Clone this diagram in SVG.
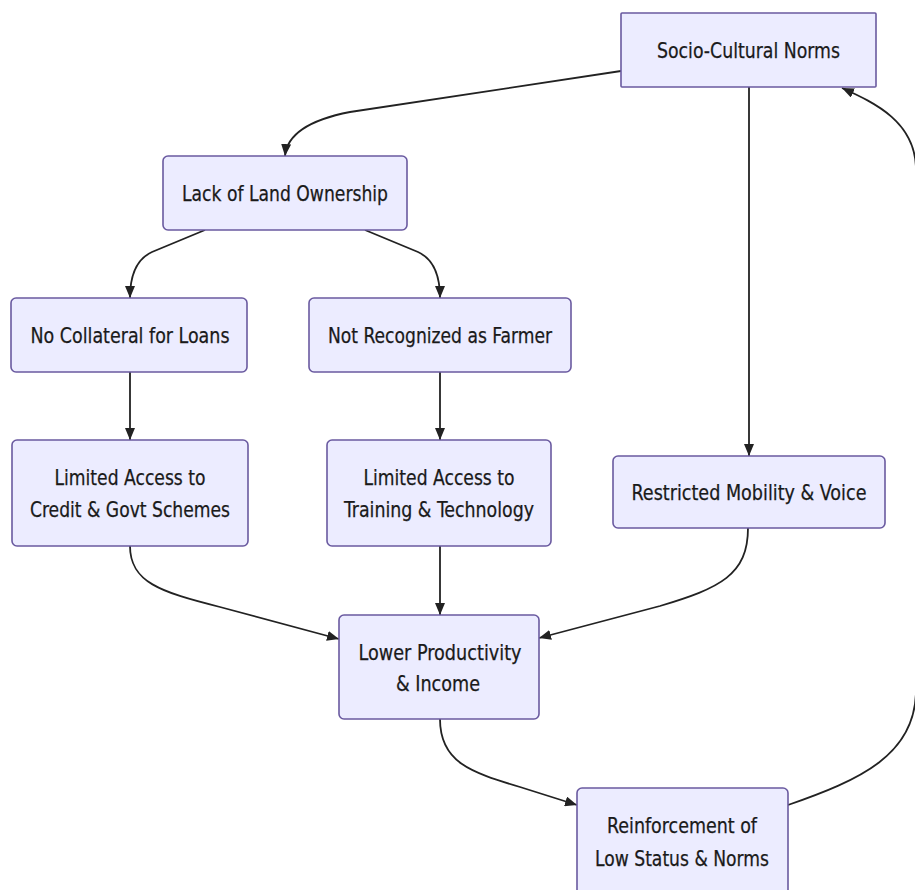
<svg xmlns="http://www.w3.org/2000/svg" width="915" height="890" viewBox="0 0 915 890">
<defs>
<style>
.node rect{fill:#ECECFF;stroke:#6a5aa0;stroke-width:1.6}
.node text{font-family:"Liberation Sans Narrow","DejaVu Sans Condensed","Liberation Sans",sans-serif;font-size:22px;fill:#1a1a1a;stroke:#1a1a1a;stroke-width:0.25;text-anchor:middle}
.edges path{fill:none;stroke:#222;stroke-width:1.8}
</style>
<marker id="arr" markerUnits="userSpaceOnUse" markerWidth="12" markerHeight="10" viewBox="0 0 12 10" refX="12" refY="5" orient="auto">
<path d="M0,0 L12,5 L0,10 z" fill="#222"/>
</marker>
</defs>
<rect width="915" height="890" fill="#ffffff"/>
<g class="edges">
<path d="M621,71 L350,112 Q288,124 285,156" marker-end="url(#arr)"/>
<path d="M749,87 L749,456" marker-end="url(#arr)"/>
<path d="M205,230 L152,252 Q130,262 130,298" marker-end="url(#arr)"/>
<path d="M365,230 L418,252 Q440,262 440,298" marker-end="url(#arr)"/>
<path d="M130,372 L130,440" marker-end="url(#arr)"/>
<path d="M440,372 L440,440" marker-end="url(#arr)"/>
<path d="M130,546 C130,582 160,592 220,607 L339,639" marker-end="url(#arr)"/>
<path d="M440,546 L440,615" marker-end="url(#arr)"/>
<path d="M748,528 C748,575 720,588 660,606 L539,638" marker-end="url(#arr)"/>
<path d="M440,719 C440,762 470,772 520,787 L577,805" marker-end="url(#arr)"/>
<path d="M788,805 C860,780 916,755 916,690 L916,170 C916,122 875,103 842,88" marker-end="url(#arr)"/>
</g>
<g id="socio" class="node"><rect x="621" y="13" width="255" height="74" rx="1"/><text x="748.5" y="58" textLength="183" lengthAdjust="spacingAndGlyphs">Socio-Cultural Norms</text></g>
<g id="land" class="node"><rect x="163" y="156" width="244" height="74" rx="5"/><text x="285" y="201" textLength="206" lengthAdjust="spacingAndGlyphs">Lack of Land Ownership</text></g>
<g id="collateral" class="node"><rect x="11" y="298" width="236" height="74" rx="5"/><text x="130" y="343" textLength="199" lengthAdjust="spacingAndGlyphs">No Collateral for Loans</text></g>
<g id="farmer" class="node"><rect x="309" y="298" width="262" height="74" rx="5"/><text x="440" y="343" textLength="224" lengthAdjust="spacingAndGlyphs">Not Recognized as Farmer</text></g>
<g id="credit" class="node"><rect x="12" y="440" width="236" height="106" rx="5"/><text x="130" y="485" textLength="151" lengthAdjust="spacingAndGlyphs">Limited Access to</text><text x="130" y="517" textLength="200" lengthAdjust="spacingAndGlyphs">Credit &amp; Govt Schemes</text></g>
<g id="training" class="node"><rect x="327" y="440" width="224" height="106" rx="5"/><text x="439" y="485" textLength="151" lengthAdjust="spacingAndGlyphs">Limited Access to</text><text x="439" y="517" textLength="190" lengthAdjust="spacingAndGlyphs">Training &amp; Technology</text></g>
<g id="mobility" class="node"><rect x="613" y="456" width="272" height="72" rx="5"/><text x="749" y="500" textLength="235" lengthAdjust="spacingAndGlyphs">Restricted Mobility &amp; Voice</text></g>
<g id="productivity" class="node"><rect x="339" y="615" width="200" height="104" rx="5"/><text x="440" y="660" textLength="163" lengthAdjust="spacingAndGlyphs">Lower Productivity</text><text x="438" y="691" textLength="84" lengthAdjust="spacingAndGlyphs">&amp; Income</text></g>
<g id="reinforcement" class="node"><rect x="577" y="788" width="211" height="108" rx="5"/><text x="682" y="833" textLength="150" lengthAdjust="spacingAndGlyphs">Reinforcement of</text><text x="682" y="866" textLength="174" lengthAdjust="spacingAndGlyphs">Low Status &amp; Norms</text></g>
</svg>
